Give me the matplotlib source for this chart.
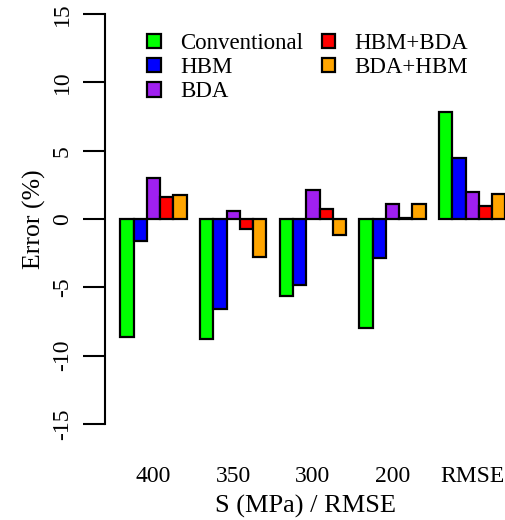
import numpy as np
import matplotlib.pyplot as plt
from matplotlib.patches import Patch

plt.rcParams['font.family'] = ['Liberation Serif', 'DejaVu Serif']

groups = ['400', '350', '300', '200', 'RMSE']
methods = ['Conventional', 'HBM', 'BDA', 'HBM+BDA', 'BDA+HBM']
colors = ['#00ff00', '#0000ff', '#a020f0', '#ff0000', '#ffa500']

conventional = [-8.65, -8.8, -5.6, -7.95, 7.8]
hbm = [-1.6, -6.6, -4.85, -2.85, 4.45]
bda = [3.0, 0.55, 2.15, 1.1, 1.95]
hbm_bda = [1.6, -0.75, 0.7, 0.1, 0.95]
bda_hbm = [1.75, -2.8, -1.2, 1.1, 1.85]
series = [conventional, hbm, bda, hbm_bda, bda_hbm]

W, H = 505, 520
fig = plt.figure(figsize=(W / 100, H / 100), dpi=100)
# axes box in pixels: left 105, bottom 424, top 14
ax = fig.add_axes([105 / W, (H - 424) / H, 401 / W, (424 - 14) / H])

x0 = np.arange(len(groups)) * 6 + 1
for i, (vals, c) in enumerate(zip(series, colors)):
    ax.bar(x0 + i, vals, width=1, align='edge', color=c,
           edgecolor='black', linewidth=1.6, clip_on=False)

ax.set_xlim(-0.16, 30.05)
ax.set_ylim(-15, 15)
ax.set_yticks([-15, -10, -5, 0, 5, 10, 15])
ax.set_yticklabels(['-15', '-10', '-5', '0', '5', '10', '15'],
                   rotation=90, va='center', fontsize=17)
ax.set_xticks(x0 + 2.5)
ax.set_xticklabels(groups, fontsize=17)
ax.tick_params(axis='x', length=0, pad=30)
ax.tick_params(axis='y', length=16, width=1.5, pad=7)

for s in ['top', 'right', 'bottom']:
    ax.spines[s].set_visible(False)
ax.spines['left'].set_linewidth(1.5)

ax.set_xlabel('S (MPa) / RMSE', fontsize=19, labelpad=6)
ax.set_ylabel('Error (%)', fontsize=18.5, labelpad=4)

handles = [Patch(facecolor=c, edgecolor='black', linewidth=1.6) for c in colors]
ax.legend(handles, methods, ncol=2, frameon=False, fontsize=16.5,
          loc='upper left', bbox_to_anchor=(42 / 401, (424 - 33) / 410),
          handlelength=0.6, handleheight=0.6, handletextpad=0.85,
          columnspacing=0.8, labelspacing=0.14, borderpad=0, borderaxespad=0)

fig.savefig('out.png', dpi=100)
